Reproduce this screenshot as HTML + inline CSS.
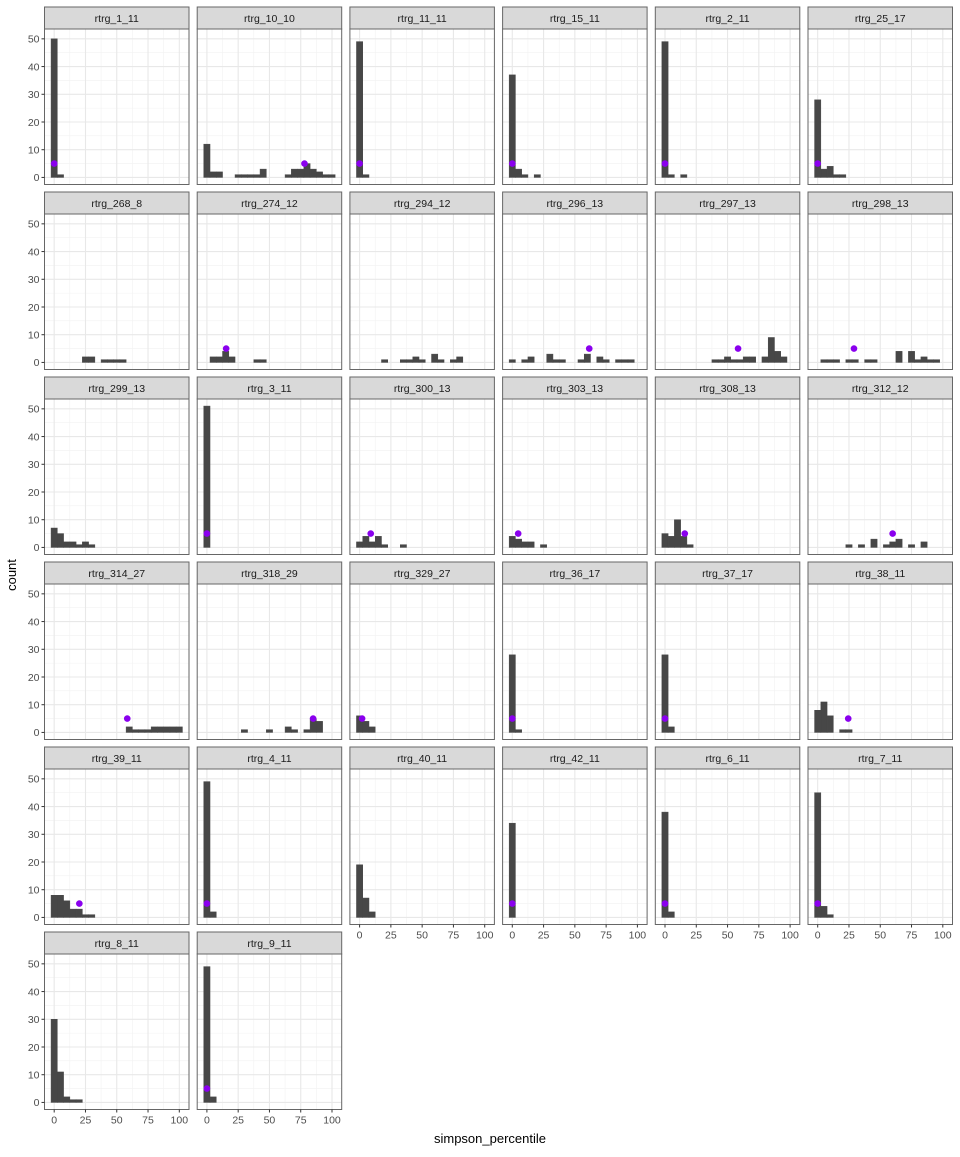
<!DOCTYPE html>
<html><head><meta charset="utf-8"><style>
html,body{margin:0;padding:0;background:#fff;}
svg text{font-family:"Liberation Sans",sans-serif;}
</style></head><body>
<svg id="chart" width="960" height="1152" xmlns="http://www.w3.org/2000/svg"></svg>
<script>
const facetNames=["rtrg_1_11","rtrg_10_10","rtrg_11_11","rtrg_15_11","rtrg_2_11","rtrg_25_17","rtrg_268_8","rtrg_274_12","rtrg_294_12","rtrg_296_13","rtrg_297_13","rtrg_298_13","rtrg_299_13","rtrg_3_11","rtrg_300_13","rtrg_303_13","rtrg_308_13","rtrg_312_12","rtrg_314_27","rtrg_318_29","rtrg_329_27","rtrg_36_17","rtrg_37_17","rtrg_38_11","rtrg_39_11","rtrg_4_11","rtrg_40_11","rtrg_42_11","rtrg_6_11","rtrg_7_11","rtrg_8_11","rtrg_9_11"];
const binCenters=[0,5,10,15,20,25,30,35,40,45,50,55,60,65,70,75,80,85,90,95,100];
const binCounts=[
[50,1],
[12,2,2,0,0,1,1,1,1,3,0,0,0,1,3,3,5,3,2,1,1],
[49,1],
[37,3,1,0,1],
[49,1,0,1],
[28,3,4,1,1],
[0,0,0,0,0,2,2,0,1,1,1,1],
[0,2,2,4,2,0,0,0,1,1],
[0,0,0,0,1,0,0,1,1,2,1,0,3,1,0,1,2],
[1,0,1,2,0,0,3,1,1,0,0,1,3,0,2,1,0,1,1,1],
[0,0,0,0,0,0,0,0,1,1,2,1,1,2,2,0,2,9,4,2],
[0,1,1,1,0,1,1,0,1,1,0,0,0,4,0,4,1,2,1,1],
[7,5,2,2,1,2,1],
[51],
[2,4,2,4,1,0,0,1],
[4,3,2,2,0,1],
[5,4,10,4,1],
[0,0,0,0,0,1,0,1,0,3,0,1,2,3,0,1,0,2],
[0,0,0,0,0,0,0,0,0,0,0,0,2,1,1,1,2,2,2,2,2],
[0,0,0,0,0,0,1,0,0,0,1,0,0,2,1,0,1,5,4],
[6,4,2],
[28,1],
[28,2],
[8,11,6,0,1,1],
[8,8,6,3,3,1,1],
[49,2],
[19,7,2],
[34],
[38,2],
[45,4,1],
[30,11,2,1,1],
[49,2]
];
const pointX=[0,78,0,0,0,0,null,15.4,null,61.5,58.4,29,null,0,8.9,4.7,15.8,59.9,58.4,84.9,2,0,0,24.4,20.1,0,null,0,0,0,null,0];
const pointY=5;
const xTicks=[0,25,50,75,100];
const yTicks=[0,10,20,30,40,50];
const binWidth=5;

const NS="http://www.w3.org/2000/svg";
const svg=document.getElementById('chart');
function mk(tag,attrs,parent){const e=document.createElementNS(NS,tag);for(const k in attrs)e.setAttribute(k,attrs[k]);(parent||svg).appendChild(e);return e;}
const PW=144.5,PH=155.5,X0=44.5,PITCH_X=152.7,Y0=29,PITCH_Y=185;
const XMIN=-7.75,XMAX=107.75,YMIN=-2.55,YMAX=53.55;
function sx(v,c){return X0+c*PITCH_X+(v-XMIN)/(XMAX-XMIN)*PW;}
function sy(v,r){return Y0+r*PITCH_Y+PH-(v-YMIN)/(YMAX-YMIN)*PH;}
const nFacets=facetNames.length;
for(let i=0;i<nFacets;i++){
  const r=Math.floor(i/6),c=i%6;
  const g=mk('g',{});
  
  
  const left=X0+c*PITCH_X,top=Y0+r*PITCH_Y;
  mk('rect',{x:left,y:top,width:PW,height:PH,fill:'#fff'},g);
  for(let v=12.5;v<100;v+=25){mk('line',{x1:sx(v,c),x2:sx(v,c),y1:top,y2:top+PH,stroke:'#f2f2f2','stroke-width':0.6},g);}
  for(let v=5;v<55;v+=10){mk('line',{x1:left,x2:left+PW,y1:sy(v,r),y2:sy(v,r),stroke:'#f2f2f2','stroke-width':0.6},g);}
  xTicks.forEach(v=>mk('line',{x1:sx(v,c),x2:sx(v,c),y1:top,y2:top+PH,stroke:'#e8e8e8','stroke-width':1.1},g));
  yTicks.forEach(v=>mk('line',{x1:left,x2:left+PW,y1:sy(v,r),y2:sy(v,r),stroke:'#e8e8e8','stroke-width':1.1},g));
  const counts=binCounts[i];
  counts.forEach((n,k)=>{
    if(!n)return;
    const b=mk('rect',{x:sx(binCenters[k]-binWidth/2,c),y:sy(n,r),width:sx(binCenters[k]+binWidth/2,c)-sx(binCenters[k]-binWidth/2,c),height:sy(0,r)-sy(n,r),fill:'#474747',stroke:'#474747','stroke-width':0.5},g);
    
    
  });
  if(pointX[i]!==null){
    const p=mk('circle',{cx:sx(pointX[i],c),cy:sy(pointY,r),r:3.3,fill:'#8a00ee'},g);
    
    
  }
  mk('rect',{x:left,y:top,width:PW,height:PH,fill:'none',stroke:'#666','stroke-width':1},g);
  const st=mk('rect',{x:left,y:top-22,width:PW,height:22,fill:'#d9d9d9',stroke:'#666','stroke-width':1},g);
  
  
  const t=mk('text',{x:left+PW/2,y:top-7,'text-anchor':'middle','font-size':'10.5',fill:'#1a1a1a'},g);
  t.textContent=facetNames[i];
  
  
  if(c===0){
    yTicks.forEach(v=>{
      mk('line',{x1:left-3,x2:left,y1:sy(v,r),y2:sy(v,r),stroke:'#333','stroke-width':1},g);
      const yt=mk('text',{x:left-5,y:sy(v,r)+3.8,'text-anchor':'end','font-size':'10.5',fill:'#4d4d4d'},g);
      yt.textContent=String(v);
      
      
    });
  }
  const below=i+6;
  if(below>=nFacets){
    xTicks.forEach(v=>{
      mk('line',{x1:sx(v,c),x2:sx(v,c),y1:top+PH,y2:top+PH+3,stroke:'#333','stroke-width':1},g);
      const xt=mk('text',{x:sx(v,c),y:top+PH+14,'text-anchor':'middle','font-size':'10.5',fill:'#4d4d4d'},g);
      xt.textContent=String(v);
      
      
    });
  }
}
const xl=mk('text',{x:490,y:1143,'text-anchor':'middle','font-size':'13',fill:'#000'});
xl.textContent='simpson_percentile';


const yl=mk('text',{x:0,y:0,'text-anchor':'middle','font-size':'13',fill:'#000',transform:'translate(16,575) rotate(-90)'});
yl.textContent='count';


</script>
</body></html>
